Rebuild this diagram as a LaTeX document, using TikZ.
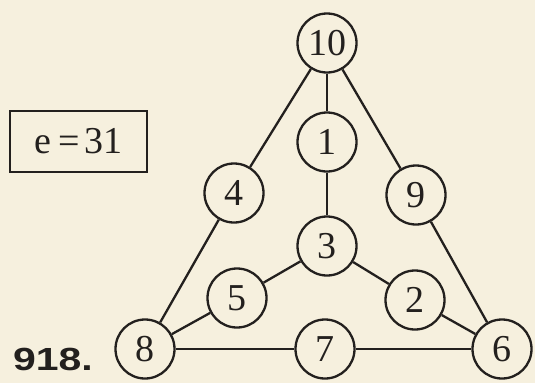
\documentclass[tikz,border=0pt]{standalone}
\usepackage{fontspec}
\usepackage{graphicx}
\newfontfamily\headfont{Liberation Sans}
\newfontfamily\numfont{Liberation Serif}
\definecolor{paper}{RGB}{246,240,222}
\definecolor{ink}{RGB}{35,32,30}
\begin{document}
\begin{tikzpicture}[x=1pt,y=-1pt,
  num/.style={circle,draw=ink,line width=2.3pt,fill=paper,minimum size=59pt,inner sep=0pt,
    text=ink,font=\numfont\fontsize{38}{40}\selectfont},
  edge/.style={draw=ink,line width=2.3pt}]
\fill[paper] (0,0) rectangle (535,383);
\useasboundingbox (0,0) rectangle (535,383);
\node[num] (n10) at (327,43) {10};
\node[num] (n1) at (327,142) {1};
\node[num] (n4) at (234,193) {4};
\node[num] (n9) at (416,195) {9};
\node[num] (n3) at (327,246) {3};
\node[num] (n5) at (237,298) {5};
\node[num] (n2) at (415,300) {2};
\node[num] (n8) at (145,349) {8};
\node[num] (n7) at (325,349) {7};
\node[num] (n6) at (502,349) {6};
\draw[edge] (n10) -- (n4);
\draw[edge] (n10) -- (n1);
\draw[edge] (n10) -- (n9);
\draw[edge] (n1) -- (n3);
\draw[edge] (n4) -- (n8);
\draw[edge] (n9) -- (n6);
\draw[edge] (n3) -- (n5);
\draw[edge] (n3) -- (n2);
\draw[edge] (n5) -- (n8);
\draw[edge] (n2) -- (n6);
\draw[edge] (n8) -- (n7);
\draw[edge] (n7) -- (n6);
\node[draw=ink,line width=2pt,minimum width=137pt,minimum height=61pt,inner sep=0pt,
  text=ink,font=\numfont\fontsize{38}{40}\selectfont] (box) at (78.5,141) {e\hspace{7pt}=\hspace{5pt}31};
\node[text=ink,font=\headfont\bfseries\fontsize{32}{34}\selectfont,inner sep=0pt] (lbl) at (53,359) {\scalebox{1.28}[1]{918.}};
\end{tikzpicture}
\end{document}
